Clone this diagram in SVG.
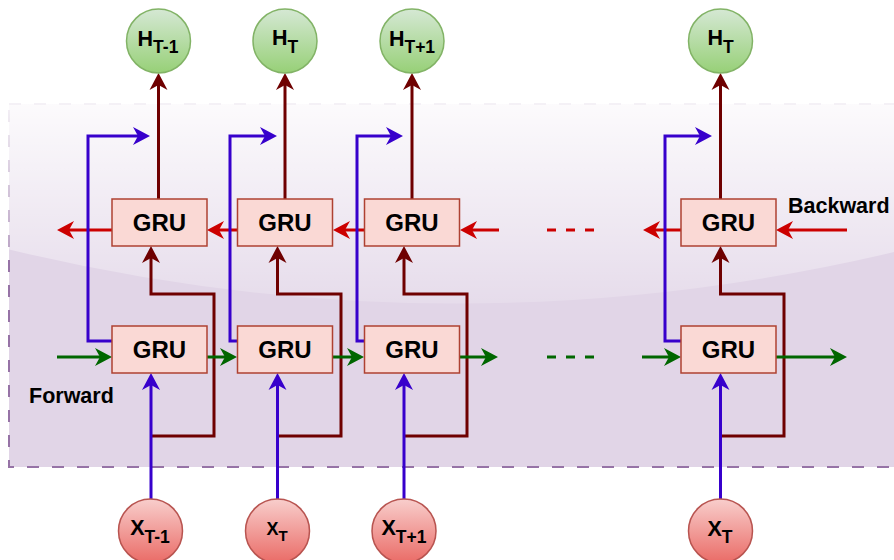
<svg xmlns="http://www.w3.org/2000/svg" width="894" height="560" viewBox="0 0 894 560">
<style>
.t{font-family:"Liberation Sans",Arial,sans-serif;font-weight:bold;fill:#000}
.gru{fill:#fad9d5;stroke:#ae4132;stroke-width:1.5}
.gl{font-size:24px}
.hc{fill:url(#gG);stroke:#82b366;stroke-width:1.5}
.xc{fill:url(#gR);stroke:#b85450;stroke-width:1.5}
.c{fill:none;stroke-width:3;stroke-linejoin:miter}
.b{stroke:#3700cc;marker-end:url(#mb)}
.g{stroke:#006600;marker-end:url(#mg)}
.r{stroke:#cc0000;marker-end:url(#mr)}
.d{stroke:#6f0000;marker-end:url(#md)}
.dash{stroke-dasharray:9 10;marker-end:none}
</style>
<defs>
<linearGradient id="gG" x1="0" y1="0" x2="0" y2="1"><stop offset="0" stop-color="#d5e8d4"/><stop offset="1" stop-color="#97d077"/></linearGradient>
<linearGradient id="gR" x1="0" y1="0" x2="0" y2="1"><stop offset="0" stop-color="#f8cecc"/><stop offset="1" stop-color="#ea6b66"/></linearGradient>
<linearGradient id="glass" gradientUnits="userSpaceOnUse" x1="0" y1="104" x2="0" y2="322"><stop offset="0" stop-color="#fff" stop-opacity="0.9"/><stop offset="1" stop-color="#fff" stop-opacity="0.1"/></linearGradient>
<marker id="mb" markerUnits="userSpaceOnUse" orient="auto" viewBox="-15 -15 30 30" markerWidth="30" markerHeight="30" refX="0" refY="0" overflow="visible"><path d="M6,0 L-11,-9 L-6,0 L-11,9 Z" fill="#3700cc"/></marker>
<marker id="mg" markerUnits="userSpaceOnUse" orient="auto" viewBox="-15 -15 30 30" markerWidth="30" markerHeight="30" refX="0" refY="0" overflow="visible"><path d="M6,0 L-11,-9 L-6,0 L-11,9 Z" fill="#006600"/></marker>
<marker id="mr" markerUnits="userSpaceOnUse" orient="auto" viewBox="-15 -15 30 30" markerWidth="30" markerHeight="30" refX="0" refY="0" overflow="visible"><path d="M6,0 L-11,-9 L-6,0 L-11,9 Z" fill="#cc0000"/></marker>
<marker id="md" markerUnits="userSpaceOnUse" orient="auto" viewBox="-15 -15 30 30" markerWidth="30" markerHeight="30" refX="0" refY="0" overflow="visible"><path d="M6,0 L-11,-9 L-6,0 L-11,9 Z" fill="#6f0000"/></marker>
</defs>
<g id="background">
<rect x="9" y="104" width="896" height="363" fill="#e1d5e7" stroke="#9673a6" stroke-width="2" stroke-dasharray="12 13"/>
<path d="M7,102 L7,249 Q457,358 907,249 L907,102 Z" fill="url(#glass)"/>
</g>
<g id="labels">
<text class="t" x="29" y="403" font-size="21.5">Forward</text>
<text class="t" x="788" y="213" font-size="21.5">Backward</text>
</g>
<g id="connectors" class="c">
<path class="c r" d="M112,230 H63"/>
<path class="c r" d="M237,230 H213"/>
<path class="c r" d="M364,230 H339"/>
<path class="c r" d="M499,230 H466"/>
<path class="c r dash" d="M547,230 H595"/>
<path class="c r" d="M847,230 H782"/>
<path class="c r" d="M681,230 H649"/>
<path class="c d" d="M151,436 H214 V294 H151 V252"/>
<path class="c d" d="M277.5,436 H341 V294 H277.5 V252"/>
<path class="c d" d="M404,436 H467 V294 H404 V252"/>
<path class="c d" d="M720.5,436 H784 V294 H720.5 V252"/>
<path class="c g" d="M57,357 H106"/>
<path class="c g" d="M207,357 H231"/>
<path class="c g" d="M333,357 H358"/>
<path class="c g" d="M460,357 H492"/>
<path class="c g dash" d="M547,357 H595"/>
<path class="c g" d="M642,357 H675"/>
<path class="c g" d="M776,357 H841"/>
<path class="c d" d="M158.5,199 V79"/>
<path class="c d" d="M285,199 V79"/>
<path class="c d" d="M412,199 V79"/>
<path class="c d" d="M720.5,199 V79"/>
<path class="c b" d="M151,499 V379"/>
<path class="c b" d="M277.5,499 V379"/>
<path class="c b" d="M404,499 V379"/>
<path class="c b" d="M720.5,499 V379"/>
<path class="c b" d="M112,341 H88 V136 H144"/>
<path class="c b" d="M237,341 H230 V136 H271"/>
<path class="c b" d="M364,341 H357 V136 H397"/>
<path class="c b" d="M681,341 H665 V136 H706"/>
</g>
<g id="gru-b1"><rect class="gru" x="112" y="199" width="95" height="47"/><text class="t gl" x="159.5" y="231" text-anchor="middle">GRU</text></g>
<g id="gru-b2"><rect class="gru" x="237.5" y="199" width="95" height="47"/><text class="t gl" x="285" y="231" text-anchor="middle">GRU</text></g>
<g id="gru-b3"><rect class="gru" x="364.5" y="199" width="95" height="47"/><text class="t gl" x="412" y="231" text-anchor="middle">GRU</text></g>
<g id="gru-b4"><rect class="gru" x="681" y="199" width="95" height="47"/><text class="t gl" x="728.5" y="231" text-anchor="middle">GRU</text></g>
<g id="gru-f1"><rect class="gru" x="112" y="326" width="95" height="47"/><text class="t gl" x="159.5" y="358" text-anchor="middle">GRU</text></g>
<g id="gru-f2"><rect class="gru" x="237.5" y="326" width="95" height="47"/><text class="t gl" x="285" y="358" text-anchor="middle">GRU</text></g>
<g id="gru-f3"><rect class="gru" x="364.5" y="326" width="95" height="47"/><text class="t gl" x="412" y="358" text-anchor="middle">GRU</text></g>
<g id="gru-f4"><rect class="gru" x="681" y="326" width="95" height="47"/><text class="t gl" x="728.5" y="358" text-anchor="middle">GRU</text></g>
<g id="h1"><circle class="hc" cx="158.5" cy="41" r="32"/><text class="t" x="158" y="46" font-size="21.5" text-anchor="middle">H<tspan font-size="17.5" dy="7">T-1</tspan></text></g>
<g id="h2"><circle class="hc" cx="285" cy="41" r="32"/><text class="t" x="285" y="45" font-size="21.5" text-anchor="middle">H<tspan font-size="17.5" dy="8">T</tspan></text></g>
<g id="h3"><circle class="hc" cx="412" cy="41" r="32"/><text class="t" x="412" y="46" font-size="21.5" text-anchor="middle">H<tspan font-size="17.5" dy="7">T+1</tspan></text></g>
<g id="h4"><circle class="hc" cx="720.5" cy="41" r="32"/><text class="t" x="720.5" y="45" font-size="21.5" text-anchor="middle">H<tspan font-size="17.5" dy="8">T</tspan></text></g>
<g id="x1"><circle class="xc" cx="150.5" cy="531" r="32"/><text class="t" x="150" y="535" font-size="21.5" text-anchor="middle">X<tspan font-size="17.5" dy="7.5">T-1</tspan></text></g>
<g id="x2"><circle class="xc" cx="277.5" cy="531" r="32"/><text class="t" x="277" y="535" font-size="18" text-anchor="middle">X<tspan font-size="15" dy="6">T</tspan></text></g>
<g id="x3"><circle class="xc" cx="404" cy="531" r="32"/><text class="t" x="404" y="535" font-size="21.5" text-anchor="middle">X<tspan font-size="17.5" dy="7.5">T+1</tspan></text></g>
<g id="x4"><circle class="xc" cx="720.5" cy="531" r="32"/><text class="t" x="720" y="536" font-size="21.5" text-anchor="middle">X<tspan font-size="17.5" dy="7">T</tspan></text></g>
</svg>
